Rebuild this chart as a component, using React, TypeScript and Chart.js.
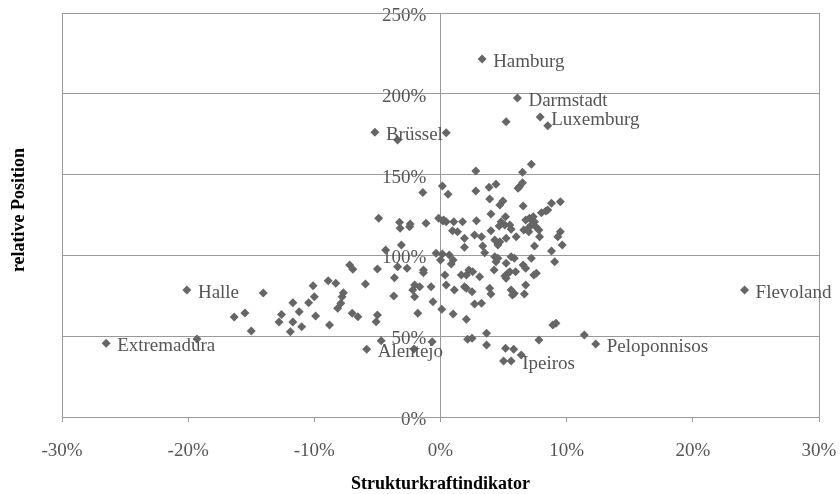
import React, { useEffect, useRef } from 'react';
import { Chart, registerables } from 'chart.js';

Chart.register(...registerables);

// Labelled regions
const regionNames = ['Hamburg', 'Darmstadt', 'Luxemburg', 'Brüssel', 'Halle', 'Extremadura', 'Flevoland', 'Peloponnisos', 'Ipeiros', 'Alentejo'];
const regionX = [3.3, 6.1, 7.9, -5.2, -20.1, -26.5, 24.1, 12.3, 5.6, -5.85];
const regionY = [221.5, 197.4, 185.6, 176.2, 78.6, 45.6, 78.6, 45.2, 34.7, 41.9];

// Other regions (Strukturkraftindikator in %, relative Position in %)
const xValues = [
  5.2, 8.5, -3.4, 0.45, -4.7, -0.66, -2.1, 5.0, 6.4, 11.4, -19.3,
  -16.35, -15.5, -15.0, -14.05, -12.8, -12.6, -11.9, -11.7,
  -11.7, -11.2, -11.0, -10.1, -10.0, -10.45, -9.9, -8.8,
  -8.9, -8.3, -7.7, -7.8, -7.9, -8.15, -7.0, -6.55,
  -5.0, -5.1, -7.2, -6.95, -5.95, -5.0, -3.7, -3.65,
  -2.05, -2.2, -1.65, -2.05, -1.8, -0.75, -0.6, 0.1,
  0.35, 0.45, -3.4, -2.65, -1.35, -1.35, -0.35, 0.15,
  0.0, 0.7, 1.0, -4.35, -3.1, -4.9, -3.25, -3.2,
  -2.4, -2.45, -1.15, -0.15, 0.2, -1.4, 0.15, 0.6,
  7.2, 2.8, 6.5, 2.8, 3.85, 4.4, 6.25, 6.5,
  6.15, 3.9, 4.7, 4.95, 6.55, 8.8, 9.5, 4.0,
  8.0, 8.35, 8.5, 0.25, 0.45, 1.05, 1.75, 2.85,
  5.15, 4.8, 5.1, 5.5, 5.6, 4.65, 4.0, 6.75,
  7.05, 7.35, 7.45, 7.2, 6.95, 7.6, 7.8, 6.6,
  7.0, 0.95, 1.35, 1.9, 2.7, 3.25, 4.3, 4.55,
  4.7, 5.2, 6.0, 7.85, 9.3, 9.5, 9.65, 7.45,
  3.35, 3.5, 1.9, 0.85, 4.3, 4.55, 4.4, 5.6,
  5.85, 7.2, 8.8, 9.05, 5.2, 6.55, 6.75, 4.25,
  2.25, 2.55, 1.65, 2.05, 3.1, 5.1, 5.35, 5.2,
  5.5, 5.95, 7.4, 7.6, 1.1, 1.9, 2.05, 2.5,
  3.9, 4.0, 5.6, 5.85, 5.7, 6.65, 6.75,
  1.0, 2.7, 3.25, 2.05, 8.9, 9.15, 3.65, 2.15, 2.5, 3.65, 5.15, 5.8, 7.8,
];
const yValues = [
  182.7, 180.3, 171.4, 175.9, 47.2, 46.6, 42.1, 34.7, 38.4, 50.7, 48.3,
  61.9, 64.4, 53.2, 76.7, 58.8, 63.4, 52.8, 70.7,
  58.8, 65.2, 55.9, 81.2, 74.4, 70.7, 62.5, 56.9,
  84.3, 82.7, 76.9, 74.4, 70.4, 67.3, 64.2, 62.1,
  63.1, 59.0, 94.1, 91.4, 82.3, 91.6, 74.9, 86.2,
  81.7, 78.6, 80.6, 74.4, 64.2, 80.6, 71.3, 66.6,
  87.9, 81.7, 93.0, 92.0, 91.0, 89.3, 101.3, 100.9,
  97.2, 100.2, 97.2, 103.3, 106.4, 123.0, 120.5, 116.8,
  119.4, 117.8, 119.9, 123.0, 121.3, 139.0, 142.9, 137.8,
  156.4, 152.2, 151.4, 139.9, 142.1, 144.0, 142.5, 145.0,
  141.5, 134.9, 131.2, 133.7, 130.6, 132.2, 133.2, 125.6,
  126.4, 127.5, 128.1, 121.9, 120.9, 120.9, 120.9, 121.5,
  123.9, 120.9, 118.8, 118.8, 116.2, 118.2, 115.3, 121.9,
  123.0, 123.9, 120.9, 118.8, 116.8, 117.4, 115.7, 115.7,
  114.7, 115.3, 114.7, 110.6, 112.6, 111.6, 109.5, 106.4,
  108.5, 110.6, 111.6, 111.6, 111.6, 114.7, 106.4, 105.8,
  105.8, 101.7, 105.0, 94.7, 99.2, 98.2, 96.1, 99.2,
  98.2, 98.2, 102.7, 96.1, 95.1, 94.1, 92.0, 91.0,
  91.0, 89.9, 87.9, 87.9, 86.8, 87.3, 88.9, 85.8,
  89.9, 89.9, 87.9, 88.9, 78.6, 80.6, 79.6, 77.5,
  79.6, 76.1, 78.6, 76.5, 75.5, 76.1, 81.7,
  63.7, 69.9, 70.4, 60.5, 56.9, 58.0, 51.8, 48.1, 48.7, 44.6, 42.5, 41.9, 47.6,
];

const xTitle = 'Strukturkraftindikator';
const yTitle = 'relative Position';

const SERIF = "'Liberation Serif', 'Times New Roman', serif";
const POINT_COLOR = '#666666';
const TEXT_GRAY = '#555555';
const LINE_GRAY = '#9a9a9a';

const framePlugin = {
  id: 'frameAndTitle',
  beforeDatasetsDraw(chart: any) {
    const { ctx, chartArea } = chart;
    ctx.save();
    ctx.strokeStyle = LINE_GRAY;
    ctx.lineWidth = 1;
    ctx.strokeRect(Math.round(chartArea.left) + 0.5, Math.round(chartArea.top) + 0.5,
      Math.round(chartArea.right - chartArea.left), Math.round(chartArea.bottom - chartArea.top));
    ctx.restore();
    ctx.save();
    ctx.translate(19, 210);
    ctx.rotate(-Math.PI / 2);
    ctx.font = `bold 18px ${SERIF}`;
    ctx.fillStyle = '#000';
    ctx.textAlign = 'center';
    ctx.textBaseline = 'middle';
    ctx.fillText(yTitle, 0, 0);
    ctx.restore();
  },
};

const labelPlugin = {
  id: 'regionLabels',
  afterDatasetsDraw(chart: any) {
    const { ctx } = chart;
    const meta = chart.getDatasetMeta(0);
    ctx.save();
    ctx.font = `19px ${SERIF}`;
    ctx.fillStyle = TEXT_GRAY;
    ctx.textAlign = 'left';
    ctx.textBaseline = 'middle';
    meta.data.forEach((pt: any, i: number) => {
      ctx.fillText(regionNames[i], pt.x + 11, pt.y + 3);
    });
    ctx.restore();
  },
};

const zeroPadding = (scale: any) => {
  scale.paddingLeft = 0;
  scale.paddingRight = 0;
  scale.paddingTop = 0;
  scale.paddingBottom = 0;
};

export default function App() {
  const ref = useRef<HTMLCanvasElement | null>(null);

  useEffect(() => {
    if (!ref.current) return;
    const pointStyle = {
      pointStyle: 'rectRot',
      pointRadius: 4.5,
      pointBackgroundColor: POINT_COLOR,
      pointBorderColor: POINT_COLOR,
      pointBorderWidth: 0,
      backgroundColor: POINT_COLOR,
      borderColor: POINT_COLOR,
    };
    const chart = new Chart(ref.current, {
      type: 'scatter',
      data: {
        datasets: [
          { label: 'benannt', data: regionX.map((x, i) => ({ x, y: regionY[i] })), ...pointStyle },
          { label: 'Regionen', data: xValues.map((x, i) => ({ x, y: yValues[i] })), ...pointStyle },
        ],
      } as any,
      options: {
        animation: false,
        responsive: false,
        devicePixelRatio: 1,
        layout: { padding: { left: 62, right: 21, top: 13, bottom: 0 } },
        plugins: { legend: { display: false }, tooltip: { enabled: false } },
        scales: {
          x: {
            type: 'linear',
            position: 'bottom',
            min: -30,
            max: 30,
            afterFit: (scale: any) => { scale.height = 77; zeroPadding(scale); },
            ticks: {
              stepSize: 10,
              padding: 18,
              color: TEXT_GRAY,
              font: { family: SERIF, size: 19 },
              callback: (v: any) => `${v}%`,
              maxRotation: 0,
            },
            grid: { display: true, drawOnChartArea: false, drawTicks: true, tickLength: 5, color: LINE_GRAY },
            border: { display: true, color: LINE_GRAY },
            title: {
              display: true,
              text: xTitle,
              color: '#000',
              font: { family: SERIF, size: 18, weight: 'bold' },
              padding: { top: 0, bottom: -1 },
            },
          },
          y: {
            type: 'linear',
            position: { x: 0 } as any,
            min: 0,
            max: 250,
            afterFit: zeroPadding,
            ticks: {
              stepSize: 50,
              labelOffset: 3,
              color: TEXT_GRAY,
              font: { family: SERIF, size: 19 },
              // trailing spaces keep the labels clear of the axis line
              callback: (v: any) => `${v}%   `,
            },
            grid: { display: true, drawOnChartArea: true, drawTicks: false, color: LINE_GRAY },
            border: { display: true, color: LINE_GRAY },
          },
        },
      } as any,
      plugins: [framePlugin, labelPlugin],
    });
    return () => chart.destroy();
  }, []);

  return (
    <div style={{ position: 'absolute', left: 0, top: 0, width: 840, height: 494, background: '#fff' }}>
      <canvas ref={ref} width={840} height={494} style={{ width: 840, height: 494, display: 'block' }} />
    </div>
  );
}
